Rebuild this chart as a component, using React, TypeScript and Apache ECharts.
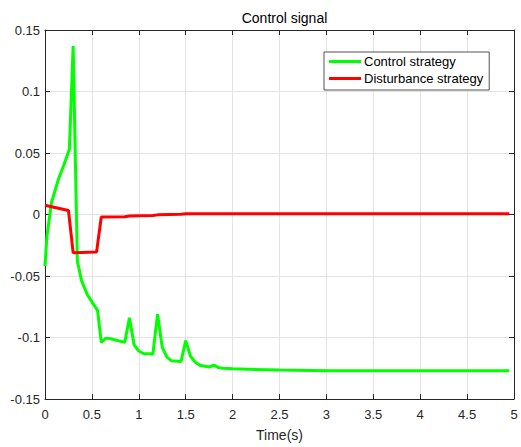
import React, { useEffect, useRef } from "react";
import * as echarts from "echarts";

const seriesNames = ["Control strategy", "Disturbance strategy"];

const controlT = [0, 0.02, 0.07, 0.14, 0.2, 0.26, 0.3, 0.345, 0.39, 0.45, 0.5, 0.56, 0.6, 0.65, 0.7, 0.85, 0.9, 0.95, 1.0, 1.05, 1.15, 1.2, 1.25, 1.3, 1.35, 1.45, 1.5, 1.55, 1.6, 1.65, 1.75, 1.8, 1.85, 1.9, 2.0, 2.5, 3.0, 4.0, 4.95];
const controlV = [-0.042, -0.018, 0.01, 0.028, 0.04, 0.053, 0.137, -0.038, -0.054, -0.065, -0.071, -0.078, -0.104, -0.1005, -0.101, -0.104, -0.084, -0.106, -0.111, -0.113, -0.1135, -0.081, -0.108, -0.116, -0.119, -0.1195, -0.1025, -0.115, -0.12, -0.1225, -0.124, -0.1225, -0.1245, -0.125, -0.1255, -0.1265, -0.127, -0.127, -0.127];

const disturbT = [0, 0.25, 0.3, 0.55, 0.6, 0.85, 0.9, 1.15, 1.2, 1.45, 1.5, 2.0, 4.95];
const disturbV = [0.0075, 0.0033, -0.031, -0.0305, -0.002, -0.0018, -0.0012, -0.0008, -0.0003, 0.0003, 0.0006, 0.0007, 0.0007];

const xTicks = { min: 0, max: 5, interval: 0.5 };
const yTicks = { min: -0.15, max: 0.15, interval: 0.05 };

const FONT = "'Liberation Sans', Arial, Helvetica, sans-serif";
const AXIS_COLOR = "#262626";
const GRID_COLOR = "#e3e3e3";

function fmt(v: number) {
  const r = Math.round(v * 1000) / 1000;
  return String(r);
}

export default function App() {
  const ref = useRef<HTMLDivElement>(null);
  useEffect(() => {
    if (!ref.current) return;
    const chart = echarts.init(ref.current, undefined, { renderer: "svg" });
    const grid = { left: 45, right: 7, top: 30, bottom: 47 };
    const baseAxisCommon = {
      axisLine: { show: true, onZero: false, lineStyle: { color: AXIS_COLOR, width: 1 } },
      axisTick: { show: true, inside: true, length: 5, lineStyle: { color: AXIS_COLOR } },
    };
    chart.setOption({
      animation: false,
      backgroundColor: "#ffffff",
      title: {
        text: "Control signal",
        left: 279.5,
        textAlign: "center",
        top: 6,
        textStyle: { fontFamily: FONT, fontSize: 14, fontWeight: "normal", color: "#000" },
      },
      legend: {
        orient: "vertical",
        left: 324,
        top: 52,
        padding: [3, 6, 5, 5],
        itemGap: 4,
        itemWidth: 32,
        itemHeight: 3,
        icon: "rect",
        backgroundColor: "#fff",
        borderColor: AXIS_COLOR,
        borderWidth: 0.8,
        borderRadius: 0,
        textStyle: { fontFamily: FONT, fontSize: 13, color: "#000", lineHeight: 13, padding: [0, 0, 0, -2] },
        data: seriesNames,
      },
      grid: { ...grid, containLabel: false, show: false },
      xAxis: [
        {
          type: "value",
          ...xTicks,
          position: "bottom",
          ...baseAxisCommon,
          axisLabel: { fontFamily: FONT, fontSize: 13, color: AXIS_COLOR, margin: 9, formatter: fmt },
          splitLine: { show: true, lineStyle: { color: GRID_COLOR, width: 1 } },
          name: "Time(s)",
          nameLocation: "middle",
          nameGap: 29,
          nameTextStyle: { fontFamily: FONT, fontSize: 14, color: AXIS_COLOR },
        },
        {
          type: "value",
          ...xTicks,
          position: "top",
          ...baseAxisCommon,
          axisLabel: { show: false },
          splitLine: { show: false },
        },
      ],
      yAxis: [
        {
          type: "value",
          ...yTicks,
          position: "left",
          ...baseAxisCommon,
          axisLabel: { fontFamily: FONT, fontSize: 13, color: AXIS_COLOR, margin: 5, formatter: fmt },
          splitLine: { show: true, lineStyle: { color: GRID_COLOR, width: 1 } },
        },
        {
          type: "value",
          ...yTicks,
          position: "right",
          ...baseAxisCommon,
          axisLabel: { show: false },
          splitLine: { show: false },
        },
      ],
      series: [
        {
          name: seriesNames[0],
          type: "line",
          data: controlT.map((t, i) => [t, controlV[i]]),
          showSymbol: false,
          symbol: "none",
          lineStyle: { color: "#00ff00", width: 3 },
          itemStyle: { color: "#00ff00" },
          z: 3,
        },
        {
          name: seriesNames[1],
          type: "line",
          data: disturbT.map((t, i) => [t, disturbV[i]]),
          showSymbol: false,
          symbol: "none",
          lineStyle: { color: "#ff0000", width: 3 },
          itemStyle: { color: "#ff0000" },
          z: 4,
        },
      ],
    });
    return () => chart.dispose();
  }, []);
  return (
    <div
      ref={ref}
      style={{ position: "fixed", left: 0, top: 0, width: 521, height: 447, background: "#fff" }}
    />
  );
}
